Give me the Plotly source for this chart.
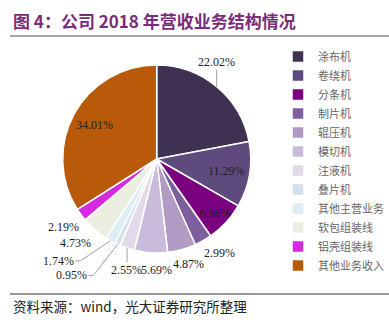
import math
import plotly.graph_objects as go

categories = ["涂布机", "卷绕机", "分条机", "制片机", "辊压机", "模切机", "注液机",
              "叠片机", "其他主营业务", "软包组装线", "铝壳组装线", "其他业务收入"]
values = [22.02, 11.29, 6.96, 2.99, 4.87, 5.69, 2.55, 0.95, 1.74, 4.73, 2.19, 34.01]
colors = ["#3F3152", "#5E4A7D", "#7B0080", "#7D5FA0", "#AF9BC4", "#C8BCDA", "#E2DAE9",
          "#D3E1EC", "#DCEDF4", "#E9EEE0", "#D42BE0", "#B85A0A"]

# label placement style: ("in", radius_factor) or ("out", dx_px, dy_px, leader)
label_style = [("out", 0, -25, "v"), ("in", 0.75), ("in", 0.85), ("out", 16, 12, None),
               ("out", 7, 14, None), ("out", 6, 17, None), ("out", -1, 22, "v"),
               ("out", -46, 31, "elbow"), ("out", -52, 20, "elbow"), ("out", -19, 13, None),
               ("out", -18, 12, None), ("in", 0.75)]

title = "图 4：公司 2018 年营收业务结构情况"
source = "资料来源：wind，光大证券研究所整理"

W, H = 389, 323
dom_x = [62.7 / W, 250.7 / W]
dom_y = [(H - 253) / H, (H - 65) / H]

fig = go.Figure()
fig.add_trace(go.Pie(
    labels=categories,
    values=values,
    sort=False,
    direction="clockwise",
    rotation=0,
    marker=dict(colors=colors, line=dict(color="white", width=1.5)),
    textinfo="none",
    domain=dict(x=dom_x, y=dom_y),
    hoverinfo="skip",
))

cx = (dom_x[0] + dom_x[1]) / 2 * W
cy = (1 - (dom_y[0] + dom_y[1]) / 2) * H
r_px = min((dom_x[1] - dom_x[0]) * W, (dom_y[1] - dom_y[0]) * H) / 2
total = sum(values)


def px(x, y):
    return x / W, 1 - y / H


annotations = []
shapes = []
cum = 0.0
label_font = dict(family="Liberation Serif", size=12, color="#222222")
half_w, half_h = 15, 7
for v, st in zip(values, label_style):
    mid = (cum + v / 2) / total * 2 * math.pi
    cum += v
    sx, sy = math.sin(mid), -math.cos(mid)
    txt = f"{v:.2f}%"
    if st[0] == "in":
        f = st[1]
        lx, ly = cx + f * r_px * sx, cy + f * r_px * sy
    else:
        _, dx, dy, leader = st
        ex, ey = cx + r_px * sx, cy + r_px * sy
        lx, ly = ex + dx, ey + dy
        if leader == "v":
            end_y = ly + (half_h + 1) * (1 if dy < 0 else -1)
            pts = [(ex, ey), (ex, end_y)]
        elif leader == "elbow":
            side = 1 if dx < 0 else -1
            tx = lx + side * (half_w + 2)
            kx = tx + side * 5
            pts = [(ex, ey), (kx, ly), (tx, ly)]
        else:
            pts = []
        if pts:
            path = "M " + " L ".join(f"{a / W:.5f},{1 - b / H:.5f}" for a, b in pts)
            shapes.append(dict(type="path", xref="paper", yref="paper", path=path,
                               line=dict(color="#A0A0A0", width=1)))
    ax_, ay_ = px(lx, ly)
    annotations.append(dict(text=txt, x=ax_, y=ay_, xref="paper", yref="paper", showarrow=False,
                            xanchor="center", yanchor="middle", font=label_font))

annotations += [
    dict(text="<b>" + title + "</b>", x=11 / W, y=1 - 20 / H, xref="paper", yref="paper",
         xanchor="left", yanchor="middle", showarrow=False,
         font=dict(family="Noto Sans CJK SC", size=17, color="#7B2C7B")),
    dict(text=source, x=11 / W, y=1 - 306 / H, xref="paper", yref="paper",
         xanchor="left", yanchor="middle", showarrow=False,
         font=dict(family="Noto Sans CJK SC", size=13.5, color="#222222")),
]

shapes += [
    dict(type="line", xref="paper", yref="paper", x0=10 / W, x1=1, y0=1 - 36 / H, y1=1 - 36 / H,
         line=dict(color="#888888", width=1.5)),
    dict(type="line", xref="paper", yref="paper", x0=10 / W, x1=1, y0=1 - 294 / H, y1=1 - 294 / H,
         line=dict(color="#333333", width=1)),
]

fig.update_layout(
    width=W, height=H,
    margin=dict(l=0, r=0, t=0, b=0),
    paper_bgcolor="white",
    plot_bgcolor="white",
    showlegend=True,
    legend=dict(
        x=1, y=1 - 42 / H, xanchor="right", yanchor="top",
        font=dict(family="Noto Sans CJK SC", size=11, color="#666666"),
        itemwidth=30,
        tracegroupgap=0,
    ),
    annotations=annotations,
    shapes=shapes,
)

fig.write_html("out.html")
